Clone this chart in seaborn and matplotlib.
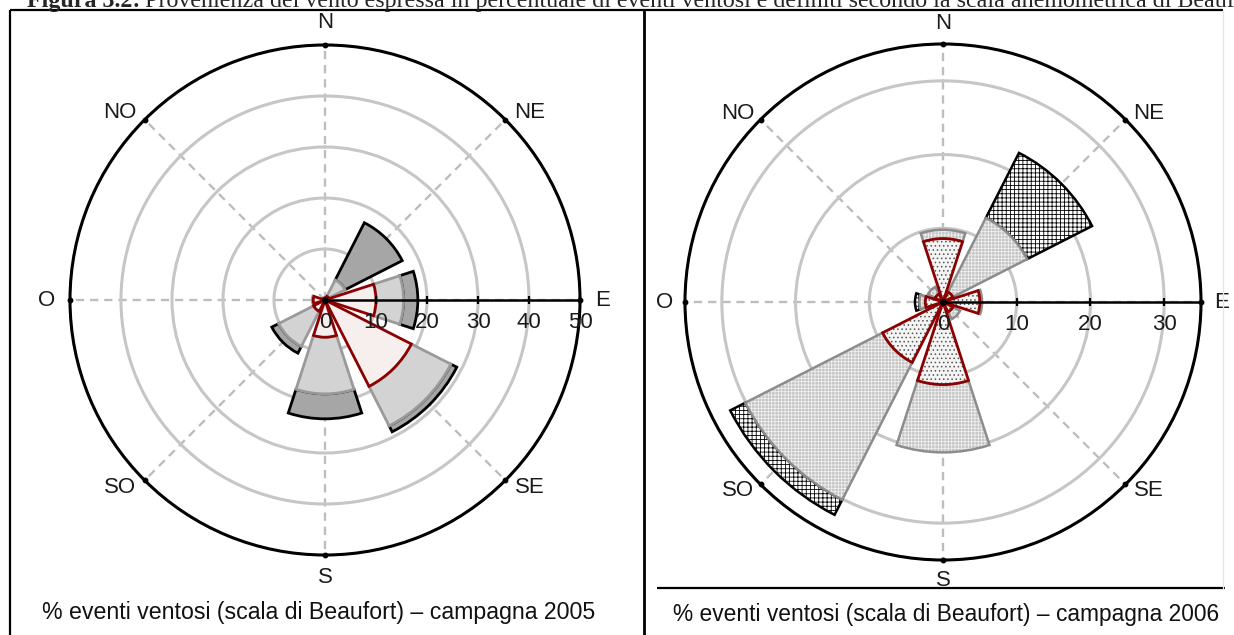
import numpy as np
import matplotlib
matplotlib.use("Agg")
import matplotlib.pyplot as plt
import seaborn as sns
from matplotlib.lines import Line2D

# Wind directions (Italian compass labels) and their bearings in degrees
directions = ["N", "NE", "E", "SE", "S", "SO", "O", "NO"]
dir_angles = [0, 45, 90, 135, 180, 225, 270, 315]

# Percent of windy events per direction, split in three Beaufort class groups
# (values are stacked outward from the centre)
bf_low_2005 = [0.4, 0.8, 10.0, 19.0, 7.3, 2.5, 2.3, 0.4]
bf_mid_2005 = [0.0, 3.6, 5.4, 8.7, 11.1, 7.7, 0.2, 0.0]
bf_high_2005 = [0.0, 12.6, 2.8, 1.3, 4.9, 1.5, 0.0, 0.0]

bf_low_2006 = [8.6, 1.5, 5.0, 1.5, 11.2, 9.2, 2.4, 1.2]
bf_mid_2006 = [1.2, 11.3, 0.3, 1.1, 9.2, 20.9, 0.8, 1.1]
bf_high_2006 = [0.0, 9.9, 0.0, 0.0, 0.0, 2.3, 0.6, 0.0]

rticks_2005 = [0, 10, 20, 30, 40, 50]
rticks_2006 = [0, 10, 20, 30]
rmax_2005 = 50
rmax_2006 = 35

title_bold = "Figura 3.2:"
title_rest = ("Provenienza del vento espressa in percentuale di eventi ventosi "
              "e definiti secondo la scala anemometrica di Beaufort")
caption_2005 = "% eventi ventosi (scala di Beaufort) \u2013 campagna 2005"
caption_2006 = "% eventi ventosi (scala di Beaufort) \u2013 campagna 2006"

sns.set_theme(style="white")
plt.rcParams["font.family"] = ["Liberation Sans", "DejaVu Sans"]
plt.rcParams["hatch.linewidth"] = 0.6

W, H = 1234, 635
fig = plt.figure(figsize=(W / 100, H / 100), dpi=100)
fig.patch.set_facecolor("white")


def fx(x):
    return x / W


def fy(y):
    return 1 - y / H


styles_2005 = [
    dict(face="#f7eeee", edge="#8b0000", lw=2.0),
    dict(face="#d3d3d3", edge="#9a9a9a", lw=2.0),
    dict(face="#a6a6a6", edge="black", lw=2.0),
]
styles_2006 = [
    dict(face="#f4f4f4", edge="#8b0000", lw=2.0, hatch="....", hcol="#555555"),
    dict(face="#c4c4c4", edge="#8c8c8c", lw=1.8, hatch="+++++", hcol="#efefef"),
    dict(face="white", edge="black", lw=1.8, hatch="++++", hcol="black"),
]

# diagonal labels sit a little closer to the horizontal axis
label_shift = [0, 2.5, 0, -2.5, 0, 2.5, 0, -2.5]


def draw_rose(ax, groups, styles, rmax, rticks, lab_r):
    theta = np.deg2rad(dir_angles)
    ax.set_theta_zero_location("N")
    ax.set_theta_direction(-1)
    ax.set_ylim(0, rmax)
    ax.set_axisbelow(True)
    ax.set_facecolor("white")
    ax.set_thetagrids(dir_angles, labels=[""] * len(dir_angles))
    ax.set_rgrids([t for t in rticks if 0 < t < rmax], labels=[])
    ax.xaxis.grid(True, color="#bdbdbd", lw=1.7, ls=(0, (3.5, 2.5)))
    ax.yaxis.grid(True, color="#c6c6c6", lw=2.2, ls="-")
    ax.spines["polar"].set(color="black", lw=2.2)
    ax.tick_params(length=0)

    width = np.deg2rad(36)
    bottom = np.zeros(len(dir_angles))
    layers = []
    for vals in groups:
        vals = np.asarray(vals, dtype=float)
        layers.append((bottom.copy(), vals))
        bottom = bottom + vals
    # outer class first so the inner classes sit on top
    for (b, h), st in reversed(list(zip(layers, styles))):
        m = h > 0
        ax.bar(theta[m], h[m], width=width, bottom=b[m], color=st["face"],
               linewidth=0, zorder=2)
        if st.get("hatch"):
            ax.bar(theta[m], h[m], width=width, bottom=b[m], facecolor="none",
                   edgecolor=st["hcol"], hatch=st["hatch"], linewidth=0, zorder=2)
        ax.bar(theta[m], h[m], width=width, bottom=b[m], facecolor="none",
               edgecolor=st["edge"], linewidth=st["lw"], zorder=2)

    # solid east axis carrying the scale
    ax.plot([np.pi / 2, np.pi / 2], [0, rmax], color="black", lw=1.8, zorder=4,
            clip_on=False)
    ax.plot([np.pi / 2] * (len(rticks) - 1), rticks[1:], ls="none", marker="|",
            ms=6, mew=1.6, color="black", zorder=4, clip_on=False)
    ax.plot([0], [0], marker="o", ms=4, color="black", zorder=5)
    for t in rticks:
        ax.annotate(f"{t}", xy=(np.pi / 2, t), xytext=(0, -16),
                    textcoords="offset points", ha="center", va="center",
                    fontsize=16, color="#1a1a1a", annotation_clip=False, zorder=5)
    ax.plot(theta, [rmax] * len(theta), ls="none", marker="o", ms=3.2,
            color="black", clip_on=False, zorder=5)
    for lab, ang, sh in zip(directions, dir_angles, label_shift):
        ax.text(np.deg2rad(ang + sh), rmax * lab_r, lab, ha="center",
                va="center", fontsize=16, color="#1a1a1a", clip_on=False)


ax1 = fig.add_axes([fx(325 - 255), fy(300 + 255), 510 / W, 510 / H],
                   projection="polar")
ax2 = fig.add_axes([fx(943 - 258), fy(302 + 258), 516 / W, 516 / H],
                   projection="polar")

draw_rose(ax1, [bf_low_2005, bf_mid_2005, bf_high_2005], styles_2005,
          rmax_2005, rticks_2005, 1.09)
draw_rose(ax2, [bf_low_2006, bf_mid_2006, bf_high_2006], styles_2006,
          rmax_2006, rticks_2006, 1.08)

# table borders around the two panels
border = dict(color="black", lw=1.6, solid_capstyle="butt")
fig.add_artist(Line2D([fx(10), fx(10)], [fy(10), fy(640)], **border))
fig.add_artist(Line2D([fx(644), fx(644)], [fy(10), fy(640)], color="black",
                      lw=2.0, solid_capstyle="butt"))
fig.add_artist(Line2D([fx(10), fx(1223)], [fy(10), fy(10)], **border))
fig.add_artist(Line2D([fx(657), fx(1225)], [fy(588), fy(588)], **border))
fig.add_artist(Line2D([fx(1223), fx(1223)], [fy(10), fy(588)], color="#e6e6e6",
                      lw=1.0))

# captions
fig.text(fx(319), fy(613), caption_2005, ha="center", va="center", fontsize=16.7,
         color="#111111")
fig.text(fx(946), fy(615), caption_2006, ha="center", va="center", fontsize=16.4,
         color="#111111")

# figure heading, partly above the top edge
t1 = fig.text(fx(27), fy(7), title_bold, ha="left", va="baseline", fontsize=17.25,
              fontweight="bold", family=["Liberation Serif", "DejaVu Serif"])
fig.canvas.draw()
bb = t1.get_window_extent(renderer=fig.canvas.get_renderer())
fig.text((bb.x1 + 5) / W, fy(7), title_rest, ha="left", va="baseline",
         fontsize=17.25, family=["Liberation Serif", "DejaVu Serif"])

fig.savefig("out.png", dpi=100, facecolor="white")
